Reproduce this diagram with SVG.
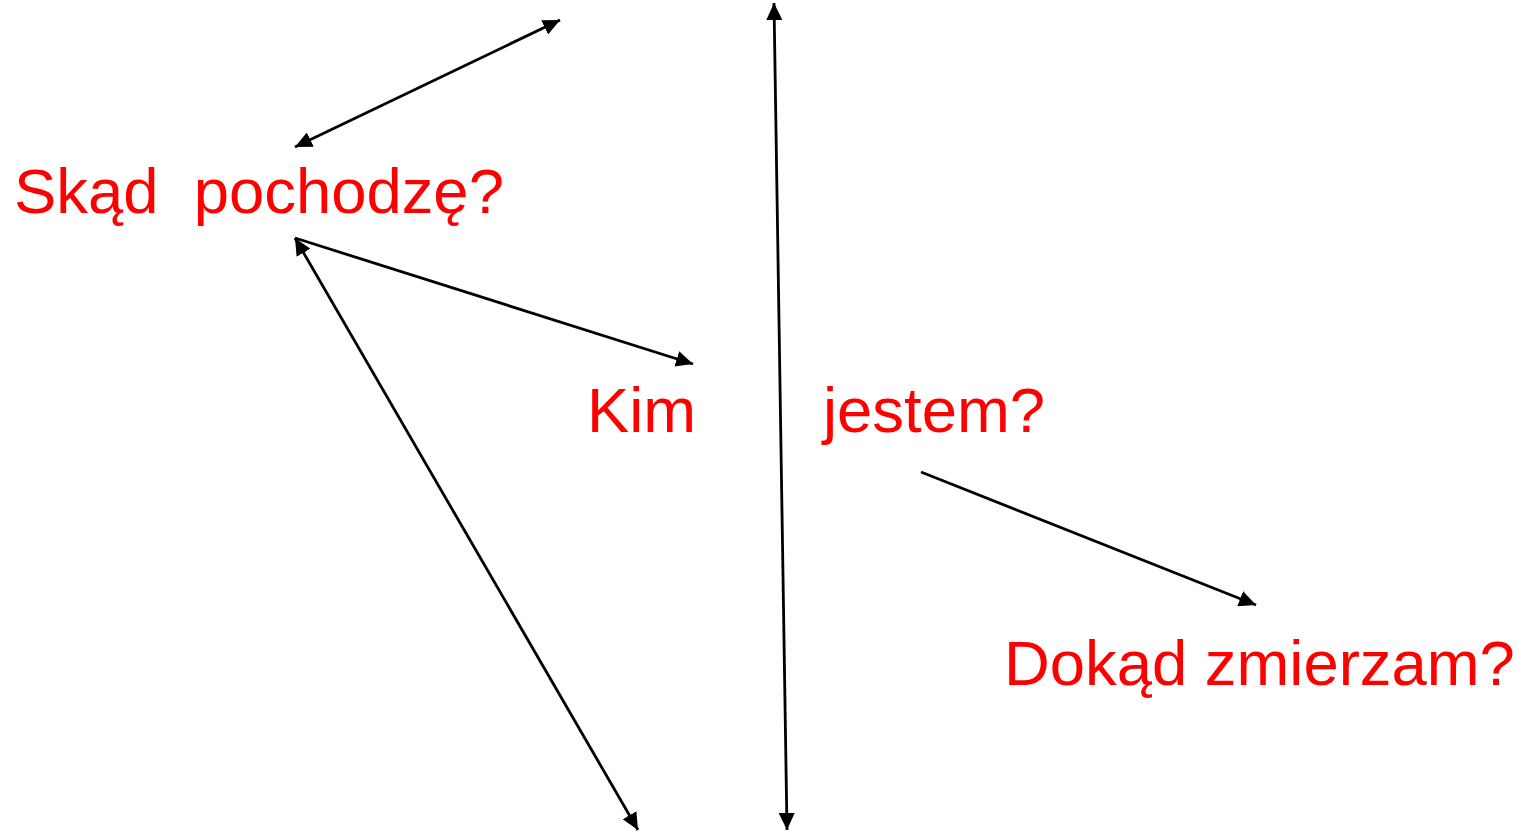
<svg xmlns="http://www.w3.org/2000/svg" width="1525" height="833" viewBox="0 0 1525 833">
<style>
.lbl{font-family:"Liberation Sans",Arial,sans-serif;font-size:63.4px;fill:#ff0000;white-space:pre}
.c{stroke:#000;stroke-width:2.8;fill:none}
</style>
<defs>
<marker id="ah" markerUnits="userSpaceOnUse" markerWidth="18" markerHeight="16" refX="17" refY="8" orient="auto-start-reverse" viewBox="0 0 18 16">
<path d="M0,0 L17,8 L0,16 Z" fill="#000"/>
</marker>
</defs>
<rect width="1525" height="833" fill="#fff"/>
<g id="connectors">
<line class="c" x1="295" y1="147" x2="560" y2="20" marker-start="url(#ah)" marker-end="url(#ah)"/>
<line class="c" x1="295" y1="238" x2="693" y2="364" marker-end="url(#ah)"/>
<line class="c" x1="295" y1="238" x2="638" y2="830" marker-start="url(#ah)" marker-end="url(#ah)"/>
<line class="c" x1="774" y1="3" x2="787" y2="830" marker-start="url(#ah)" marker-end="url(#ah)"/>
<line class="c" x1="921" y1="472" x2="1256" y2="605" marker-end="url(#ah)"/>
</g>
<g id="node-skad"><text class="lbl" x="14" y="213">Skąd  pochodzę?</text></g>
<g id="node-kim"><text class="lbl" x="587" y="432">Kim<tspan x="823">jestem?</tspan></text></g>
<g id="node-dokad"><text class="lbl" x="1004" y="685">Dokąd zmierzam?</text></g>
</svg>
